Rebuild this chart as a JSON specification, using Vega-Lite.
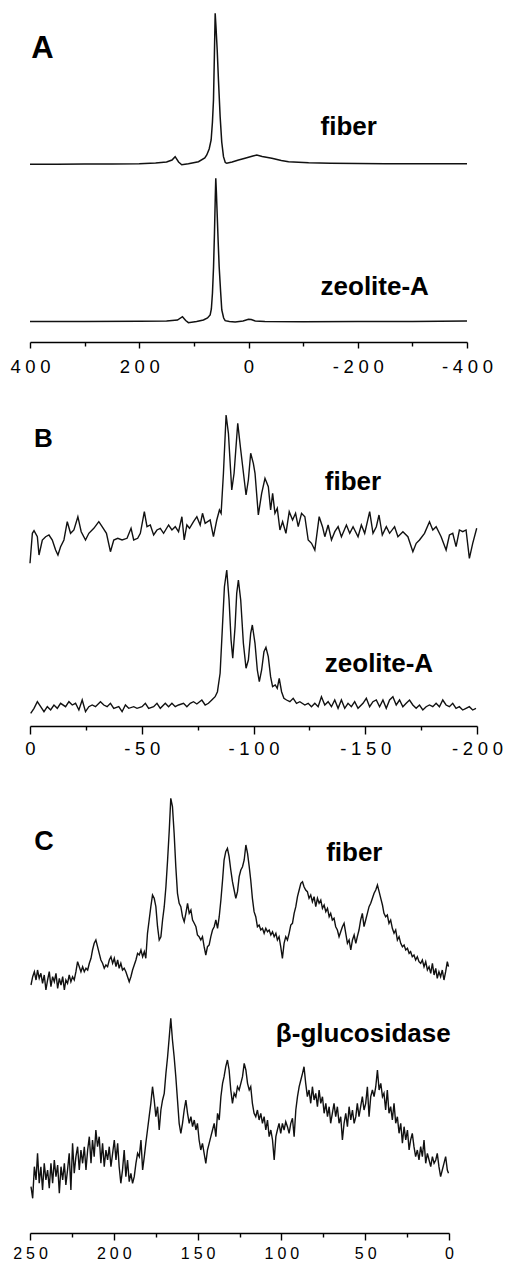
{
"$schema": "https://vega.github.io/schema/vega-lite/v6.json",
"padding": {"left": 9, "top": 8, "right": 0, "bottom": 0},
"bounds": "flush",
"spacing": 62,
"config": {
  "view": {"stroke": null, "fill": "white"},
  "axis": {"domainColor": "black", "domainWidth": 1.6, "tickColor": "black", "tickWidth": 1.4, "labelColor": "black", "labelFont": "Liberation Sans", "grid": false, "labelFlush": false, "labelOverlap": false, "labelBound": false}
},
"datasets": {
  "A_spectra": [
    {"ppm":400,"intensity":177.7,"sample":"fiber"},{"ppm":350,"intensity":177.8,"sample":"fiber"},{"ppm":300,"intensity":178,"sample":"fiber"},{"ppm":250,"intensity":178,"sample":"fiber"},{"ppm":200,"intensity":178.2,"sample":"fiber"},{"ppm":170,"intensity":179,"sample":"fiber"},{"ppm":150,"intensity":180,"sample":"fiber"},{"ppm":140,"intensity":182,"sample":"fiber"},{"ppm":134.3,"intensity":185.3,"sample":"fiber"},{"ppm":128,"intensity":180,"sample":"fiber"},{"ppm":122.2,"intensity":177.3,"sample":"fiber"},{"ppm":110,"intensity":178.3,"sample":"fiber"},{"ppm":91.6,"intensity":180.3,"sample":"fiber"},{"ppm":80,"intensity":184,"sample":"fiber"},{"ppm":76.4,"intensity":187,"sample":"fiber"},{"ppm":72,"intensity":193,"sample":"fiber"},{"ppm":68.4,"intensity":202,"sample":"fiber"},{"ppm":66,"intensity":220,"sample":"fiber"},{"ppm":64.1,"intensity":242,"sample":"fiber"},{"ppm":62.5,"intensity":285,"sample":"fiber"},{"ppm":61,"intensity":328.7,"sample":"fiber"},{"ppm":59.5,"intensity":315,"sample":"fiber"},{"ppm":57.3,"intensity":292,"sample":"fiber"},{"ppm":55,"intensity":262,"sample":"fiber"},{"ppm":51.9,"intensity":225.3,"sample":"fiber"},{"ppm":49,"intensity":200,"sample":"fiber"},{"ppm":45.8,"intensity":185.3,"sample":"fiber"},{"ppm":42.5,"intensity":179.5,"sample":"fiber"},{"ppm":39.8,"intensity":178.7,"sample":"fiber"},{"ppm":30,"intensity":180,"sample":"fiber"},{"ppm":18.3,"intensity":182,"sample":"fiber"},{"ppm":8,"intensity":183.5,"sample":"fiber"},{"ppm":0,"intensity":184.7,"sample":"fiber"},{"ppm":-8,"intensity":186,"sample":"fiber"},{"ppm":-15.2,"intensity":187,"sample":"fiber"},{"ppm":-25,"intensity":185.5,"sample":"fiber"},{"ppm":-42.7,"intensity":183.7,"sample":"fiber"},{"ppm":-60,"intensity":181.5,"sample":"fiber"},{"ppm":-73.3,"intensity":180.3,"sample":"fiber"},{"ppm":-110,"intensity":179.3,"sample":"fiber"},{"ppm":-150,"intensity":178.8,"sample":"fiber"},{"ppm":-200,"intensity":178.5,"sample":"fiber"},{"ppm":-250,"intensity":178.3,"sample":"fiber"},{"ppm":-300,"intensity":178.3,"sample":"fiber"},{"ppm":-350,"intensity":178.2,"sample":"fiber"},{"ppm":-400,"intensity":178.3,"sample":"fiber"},
    {"ppm":400,"intensity":20.5,"sample":"zeolite-A"},{"ppm":300,"intensity":20.5,"sample":"zeolite-A"},{"ppm":200,"intensity":20.7,"sample":"zeolite-A"},{"ppm":150,"intensity":21,"sample":"zeolite-A"},{"ppm":130,"intensity":22,"sample":"zeolite-A"},{"ppm":120.9,"intensity":25.3,"sample":"zeolite-A"},{"ppm":115,"intensity":21.5,"sample":"zeolite-A"},{"ppm":110,"intensity":19.3,"sample":"zeolite-A"},{"ppm":95,"intensity":20.5,"sample":"zeolite-A"},{"ppm":82.5,"intensity":22,"sample":"zeolite-A"},{"ppm":75,"intensity":24,"sample":"zeolite-A"},{"ppm":70.2,"intensity":27,"sample":"zeolite-A"},{"ppm":68,"intensity":33,"sample":"zeolite-A"},{"ppm":66,"intensity":48.7,"sample":"zeolite-A"},{"ppm":64,"intensity":75,"sample":"zeolite-A"},{"ppm":62.3,"intensity":108.7,"sample":"zeolite-A"},{"ppm":60.8,"intensity":145,"sample":"zeolite-A"},{"ppm":59.9,"intensity":163.7,"sample":"zeolite-A"},{"ppm":58.8,"intensity":150,"sample":"zeolite-A"},{"ppm":57.4,"intensity":128.7,"sample":"zeolite-A"},{"ppm":55.5,"intensity":100,"sample":"zeolite-A"},{"ppm":53.7,"intensity":75.3,"sample":"zeolite-A"},{"ppm":51,"intensity":50,"sample":"zeolite-A"},{"ppm":48.9,"intensity":32,"sample":"zeolite-A"},{"ppm":45.5,"intensity":24,"sample":"zeolite-A"},{"ppm":42.7,"intensity":21.3,"sample":"zeolite-A"},{"ppm":35,"intensity":20.5,"sample":"zeolite-A"},{"ppm":24.4,"intensity":20,"sample":"zeolite-A"},{"ppm":10,"intensity":21,"sample":"zeolite-A"},{"ppm":0,"intensity":22.7,"sample":"zeolite-A"},{"ppm":-5,"intensity":22.5,"sample":"zeolite-A"},{"ppm":-12.3,"intensity":21,"sample":"zeolite-A"},{"ppm":-30,"intensity":20.5,"sample":"zeolite-A"},{"ppm":-100,"intensity":20.3,"sample":"zeolite-A"},{"ppm":-200,"intensity":20.5,"sample":"zeolite-A"},{"ppm":-300,"intensity":20.6,"sample":"zeolite-A"},{"ppm":-400,"intensity":21,"sample":"zeolite-A"}
  ],
  "A_letter": [{"ppm":397.6,"intensity":284,"label":"A"}],
  "A_labels": [{"ppm":-131.9,"intensity":207,"label":"fiber"},{"ppm":-131.9,"intensity":47,"label":"zeolite-A"}],
  "B_spectra": [
    {"ppm":0,"intensity":162.7,"sample":"fiber"},{"ppm":-1.06,"intensity":192.7,"sample":"fiber"},{"ppm":-1.8,"intensity":195.3,"sample":"fiber"},{"ppm":-3.29,"intensity":189.3,"sample":"fiber"},{"ppm":-4.03,"intensity":171,"sample":"fiber"},{"ppm":-5.52,"intensity":186,"sample":"fiber"},{"ppm":-7,"intensity":189.3,"sample":"fiber"},{"ppm":-8.49,"intensity":191,"sample":"fiber"},{"ppm":-9.98,"intensity":186,"sample":"fiber"},{"ppm":-11.46,"intensity":176,"sample":"fiber"},{"ppm":-12.5,"intensity":171,"sample":"fiber"},{"ppm":-13.69,"intensity":179.3,"sample":"fiber"},{"ppm":-15.18,"intensity":186,"sample":"fiber"},{"ppm":-16.67,"intensity":204.3,"sample":"fiber"},{"ppm":-18.15,"intensity":192.7,"sample":"fiber"},{"ppm":-19.64,"intensity":196,"sample":"fiber"},{"ppm":-21.42,"intensity":209.3,"sample":"fiber"},{"ppm":-22.91,"intensity":194.3,"sample":"fiber"},{"ppm":-24.84,"intensity":186,"sample":"fiber"},{"ppm":-26.33,"intensity":192.7,"sample":"fiber"},{"ppm":-28.56,"intensity":197.7,"sample":"fiber"},{"ppm":-30.79,"intensity":204.3,"sample":"fiber"},{"ppm":-32.27,"intensity":199.3,"sample":"fiber"},{"ppm":-34.21,"intensity":192.7,"sample":"fiber"},{"ppm":-35.99,"intensity":174.3,"sample":"fiber"},{"ppm":-37.48,"intensity":186,"sample":"fiber"},{"ppm":-39.26,"intensity":187.7,"sample":"fiber"},{"ppm":-41.19,"intensity":186,"sample":"fiber"},{"ppm":-43.42,"intensity":187.7,"sample":"fiber"},{"ppm":-45.21,"intensity":197.7,"sample":"fiber"},{"ppm":-46.4,"intensity":186,"sample":"fiber"},{"ppm":-48.18,"intensity":187.7,"sample":"fiber"},{"ppm":-49.37,"intensity":192.7,"sample":"fiber"},{"ppm":-51.16,"intensity":214.3,"sample":"fiber"},{"ppm":-52.35,"intensity":199.3,"sample":"fiber"},{"ppm":-53.83,"intensity":201,"sample":"fiber"},{"ppm":-55.32,"intensity":191,"sample":"fiber"},{"ppm":-56.81,"intensity":196,"sample":"fiber"},{"ppm":-58.3,"intensity":197.7,"sample":"fiber"},{"ppm":-59.78,"intensity":192.7,"sample":"fiber"},{"ppm":-62.01,"intensity":201,"sample":"fiber"},{"ppm":-63.5,"intensity":196,"sample":"fiber"},{"ppm":-64.99,"intensity":199.3,"sample":"fiber"},{"ppm":-66.47,"intensity":194.3,"sample":"fiber"},{"ppm":-67.96,"intensity":209.3,"sample":"fiber"},{"ppm":-69,"intensity":186,"sample":"fiber"},{"ppm":-70.19,"intensity":201,"sample":"fiber"},{"ppm":-71.38,"intensity":197.7,"sample":"fiber"},{"ppm":-73.16,"intensity":204.3,"sample":"fiber"},{"ppm":-74.65,"intensity":209.3,"sample":"fiber"},{"ppm":-76.14,"intensity":201,"sample":"fiber"},{"ppm":-77.18,"intensity":212.7,"sample":"fiber"},{"ppm":-78.37,"intensity":202.7,"sample":"fiber"},{"ppm":-80.6,"intensity":206,"sample":"fiber"},{"ppm":-82.08,"intensity":189.3,"sample":"fiber"},{"ppm":-83.57,"intensity":206,"sample":"fiber"},{"ppm":-84.76,"intensity":216,"sample":"fiber"},{"ppm":-85.51,"intensity":212.7,"sample":"fiber"},{"ppm":-86.55,"intensity":252.7,"sample":"fiber"},{"ppm":-87.74,"intensity":311,"sample":"fiber"},{"ppm":-88.78,"intensity":292.7,"sample":"fiber"},{"ppm":-90.27,"intensity":236,"sample":"fiber"},{"ppm":-91.31,"intensity":252.7,"sample":"fiber"},{"ppm":-92.95,"intensity":302.7,"sample":"fiber"},{"ppm":-94.29,"intensity":276,"sample":"fiber"},{"ppm":-96.66,"intensity":231,"sample":"fiber"},{"ppm":-97.7,"intensity":246,"sample":"fiber"},{"ppm":-98.74,"intensity":272.7,"sample":"fiber"},{"ppm":-99.93,"intensity":262.7,"sample":"fiber"},{"ppm":-100.68,"intensity":252.7,"sample":"fiber"},{"ppm":-102.16,"intensity":211,"sample":"fiber"},{"ppm":-103.65,"intensity":232.7,"sample":"fiber"},{"ppm":-105.14,"intensity":247.7,"sample":"fiber"},{"ppm":-106.63,"intensity":239.3,"sample":"fiber"},{"ppm":-107.67,"intensity":216,"sample":"fiber"},{"ppm":-108.56,"intensity":232.7,"sample":"fiber"},{"ppm":-109.6,"intensity":212.7,"sample":"fiber"},{"ppm":-110.64,"intensity":217.7,"sample":"fiber"},{"ppm":-111.83,"intensity":196,"sample":"fiber"},{"ppm":-113.02,"intensity":204.3,"sample":"fiber"},{"ppm":-114.51,"intensity":192.7,"sample":"fiber"},{"ppm":-115.99,"intensity":214.3,"sample":"fiber"},{"ppm":-117.48,"intensity":206,"sample":"fiber"},{"ppm":-118.82,"intensity":212.7,"sample":"fiber"},{"ppm":-120.01,"intensity":199.3,"sample":"fiber"},{"ppm":-121.5,"intensity":212.7,"sample":"fiber"},{"ppm":-122.98,"intensity":209.3,"sample":"fiber"},{"ppm":-124.47,"intensity":186,"sample":"fiber"},{"ppm":-125.96,"intensity":182.7,"sample":"fiber"},{"ppm":-127.44,"intensity":176,"sample":"fiber"},{"ppm":-129.38,"intensity":209.3,"sample":"fiber"},{"ppm":-130.87,"intensity":199.3,"sample":"fiber"},{"ppm":-131.91,"intensity":189.3,"sample":"fiber"},{"ppm":-133.39,"intensity":201,"sample":"fiber"},{"ppm":-134.88,"intensity":186,"sample":"fiber"},{"ppm":-136.37,"intensity":194.3,"sample":"fiber"},{"ppm":-137.86,"intensity":199.3,"sample":"fiber"},{"ppm":-139.34,"intensity":189.3,"sample":"fiber"},{"ppm":-141.57,"intensity":201,"sample":"fiber"},{"ppm":-143.06,"intensity":192.7,"sample":"fiber"},{"ppm":-144.55,"intensity":199.3,"sample":"fiber"},{"ppm":-146.78,"intensity":189.3,"sample":"fiber"},{"ppm":-148.26,"intensity":201,"sample":"fiber"},{"ppm":-149.75,"intensity":192.7,"sample":"fiber"},{"ppm":-151.98,"intensity":214.3,"sample":"fiber"},{"ppm":-153.47,"intensity":192.7,"sample":"fiber"},{"ppm":-154.96,"intensity":199.3,"sample":"fiber"},{"ppm":-156.15,"intensity":211,"sample":"fiber"},{"ppm":-157.63,"intensity":191,"sample":"fiber"},{"ppm":-159.42,"intensity":199.3,"sample":"fiber"},{"ppm":-160.9,"intensity":192.7,"sample":"fiber"},{"ppm":-163.13,"intensity":199.3,"sample":"fiber"},{"ppm":-164.62,"intensity":189.3,"sample":"fiber"},{"ppm":-166.85,"intensity":194.3,"sample":"fiber"},{"ppm":-169.08,"intensity":189.3,"sample":"fiber"},{"ppm":-171.31,"intensity":174.3,"sample":"fiber"},{"ppm":-172.8,"intensity":182.7,"sample":"fiber"},{"ppm":-174.28,"intensity":186,"sample":"fiber"},{"ppm":-176.51,"intensity":192.7,"sample":"fiber"},{"ppm":-178.74,"intensity":204.3,"sample":"fiber"},{"ppm":-180.23,"intensity":196,"sample":"fiber"},{"ppm":-181.72,"intensity":199.3,"sample":"fiber"},{"ppm":-183.95,"intensity":189.3,"sample":"fiber"},{"ppm":-186.18,"intensity":176,"sample":"fiber"},{"ppm":-187.67,"intensity":191,"sample":"fiber"},{"ppm":-189.15,"intensity":192.7,"sample":"fiber"},{"ppm":-190.64,"intensity":179.3,"sample":"fiber"},{"ppm":-192.13,"intensity":196,"sample":"fiber"},{"ppm":-193.62,"intensity":194.3,"sample":"fiber"},{"ppm":-195.1,"intensity":196,"sample":"fiber"},{"ppm":-196.59,"intensity":167.7,"sample":"fiber"},{"ppm":-198.08,"intensity":182.7,"sample":"fiber"},{"ppm":-199.87,"intensity":197.7,"sample":"fiber"},
    {"ppm":-0.31,"intensity":12.7,"sample":"zeolite-A"},{"ppm":-1.8,"intensity":17.7,"sample":"zeolite-A"},{"ppm":-3.29,"intensity":24.3,"sample":"zeolite-A"},{"ppm":-4.77,"intensity":19.3,"sample":"zeolite-A"},{"ppm":-6.26,"intensity":14.3,"sample":"zeolite-A"},{"ppm":-7.75,"intensity":19.3,"sample":"zeolite-A"},{"ppm":-9.23,"intensity":16,"sample":"zeolite-A"},{"ppm":-10.72,"intensity":21,"sample":"zeolite-A"},{"ppm":-12.21,"intensity":17.7,"sample":"zeolite-A"},{"ppm":-13.69,"intensity":22.7,"sample":"zeolite-A"},{"ppm":-15.92,"intensity":19.3,"sample":"zeolite-A"},{"ppm":-17.41,"intensity":24.3,"sample":"zeolite-A"},{"ppm":-18.9,"intensity":21,"sample":"zeolite-A"},{"ppm":-20.38,"intensity":22.7,"sample":"zeolite-A"},{"ppm":-21.87,"intensity":16,"sample":"zeolite-A"},{"ppm":-23.36,"intensity":26,"sample":"zeolite-A"},{"ppm":-24.84,"intensity":14.3,"sample":"zeolite-A"},{"ppm":-26.33,"intensity":19.3,"sample":"zeolite-A"},{"ppm":-27.82,"intensity":21,"sample":"zeolite-A"},{"ppm":-29.3,"intensity":19.3,"sample":"zeolite-A"},{"ppm":-31.53,"intensity":24.3,"sample":"zeolite-A"},{"ppm":-33.02,"intensity":21,"sample":"zeolite-A"},{"ppm":-34.51,"intensity":19.3,"sample":"zeolite-A"},{"ppm":-35.99,"intensity":22.7,"sample":"zeolite-A"},{"ppm":-37.48,"intensity":17.7,"sample":"zeolite-A"},{"ppm":-39.71,"intensity":19.3,"sample":"zeolite-A"},{"ppm":-41.2,"intensity":14.3,"sample":"zeolite-A"},{"ppm":-42.69,"intensity":21,"sample":"zeolite-A"},{"ppm":-44.17,"intensity":17.7,"sample":"zeolite-A"},{"ppm":-46.4,"intensity":19.3,"sample":"zeolite-A"},{"ppm":-47.89,"intensity":17.7,"sample":"zeolite-A"},{"ppm":-50.12,"intensity":19.3,"sample":"zeolite-A"},{"ppm":-51.61,"intensity":22.7,"sample":"zeolite-A"},{"ppm":-53.09,"intensity":17.7,"sample":"zeolite-A"},{"ppm":-55.32,"intensity":19.3,"sample":"zeolite-A"},{"ppm":-56.81,"intensity":22.7,"sample":"zeolite-A"},{"ppm":-58.3,"intensity":17.7,"sample":"zeolite-A"},{"ppm":-60.53,"intensity":22.7,"sample":"zeolite-A"},{"ppm":-62.01,"intensity":19.3,"sample":"zeolite-A"},{"ppm":-63.5,"intensity":22.7,"sample":"zeolite-A"},{"ppm":-64.99,"intensity":19.3,"sample":"zeolite-A"},{"ppm":-66.47,"intensity":21,"sample":"zeolite-A"},{"ppm":-68.7,"intensity":22.7,"sample":"zeolite-A"},{"ppm":-70.19,"intensity":19.3,"sample":"zeolite-A"},{"ppm":-71.68,"intensity":22.7,"sample":"zeolite-A"},{"ppm":-73.16,"intensity":24.3,"sample":"zeolite-A"},{"ppm":-74.65,"intensity":22,"sample":"zeolite-A"},{"ppm":-76.88,"intensity":26,"sample":"zeolite-A"},{"ppm":-78.37,"intensity":21,"sample":"zeolite-A"},{"ppm":-79.85,"intensity":22.7,"sample":"zeolite-A"},{"ppm":-81.34,"intensity":26,"sample":"zeolite-A"},{"ppm":-82.83,"intensity":29.3,"sample":"zeolite-A"},{"ppm":-83.87,"intensity":34.3,"sample":"zeolite-A"},{"ppm":-85.06,"intensity":52.7,"sample":"zeolite-A"},{"ppm":-86.1,"intensity":99.3,"sample":"zeolite-A"},{"ppm":-86.99,"intensity":139.3,"sample":"zeolite-A"},{"ppm":-88.03,"intensity":156,"sample":"zeolite-A"},{"ppm":-89.07,"intensity":126,"sample":"zeolite-A"},{"ppm":-89.96,"intensity":86,"sample":"zeolite-A"},{"ppm":-90.71,"intensity":67.7,"sample":"zeolite-A"},{"ppm":-91.75,"intensity":99.3,"sample":"zeolite-A"},{"ppm":-92.49,"intensity":132.7,"sample":"zeolite-A"},{"ppm":-93.24,"intensity":146,"sample":"zeolite-A"},{"ppm":-94.28,"intensity":126,"sample":"zeolite-A"},{"ppm":-95.47,"intensity":82.7,"sample":"zeolite-A"},{"ppm":-96.66,"intensity":57.7,"sample":"zeolite-A"},{"ppm":-97.7,"intensity":66,"sample":"zeolite-A"},{"ppm":-98.74,"intensity":92.7,"sample":"zeolite-A"},{"ppm":-99.48,"intensity":101,"sample":"zeolite-A"},{"ppm":-100.67,"intensity":82.7,"sample":"zeolite-A"},{"ppm":-101.71,"intensity":56,"sample":"zeolite-A"},{"ppm":-102.6,"intensity":44.3,"sample":"zeolite-A"},{"ppm":-103.64,"intensity":56,"sample":"zeolite-A"},{"ppm":-104.68,"intensity":74.3,"sample":"zeolite-A"},{"ppm":-105.57,"intensity":78.7,"sample":"zeolite-A"},{"ppm":-106.61,"intensity":69.3,"sample":"zeolite-A"},{"ppm":-107.65,"intensity":49.3,"sample":"zeolite-A"},{"ppm":-108.54,"intensity":39.3,"sample":"zeolite-A"},{"ppm":-109.73,"intensity":41,"sample":"zeolite-A"},{"ppm":-110.62,"intensity":37.7,"sample":"zeolite-A"},{"ppm":-111.51,"intensity":47.7,"sample":"zeolite-A"},{"ppm":-112.56,"intensity":34.3,"sample":"zeolite-A"},{"ppm":-113.6,"intensity":27.7,"sample":"zeolite-A"},{"ppm":-114.79,"intensity":26,"sample":"zeolite-A"},{"ppm":-116.28,"intensity":24.3,"sample":"zeolite-A"},{"ppm":-117.76,"intensity":27.7,"sample":"zeolite-A"},{"ppm":-119.25,"intensity":22.7,"sample":"zeolite-A"},{"ppm":-120.74,"intensity":24.3,"sample":"zeolite-A"},{"ppm":-122.97,"intensity":21,"sample":"zeolite-A"},{"ppm":-124.46,"intensity":22.7,"sample":"zeolite-A"},{"ppm":-125.94,"intensity":19.3,"sample":"zeolite-A"},{"ppm":-127.43,"intensity":22.7,"sample":"zeolite-A"},{"ppm":-128.92,"intensity":19.3,"sample":"zeolite-A"},{"ppm":-130.4,"intensity":29.3,"sample":"zeolite-A"},{"ppm":-131.89,"intensity":21,"sample":"zeolite-A"},{"ppm":-133.38,"intensity":24.3,"sample":"zeolite-A"},{"ppm":-134.87,"intensity":19.3,"sample":"zeolite-A"},{"ppm":-136.35,"intensity":26,"sample":"zeolite-A"},{"ppm":-137.84,"intensity":17.7,"sample":"zeolite-A"},{"ppm":-139.33,"intensity":26,"sample":"zeolite-A"},{"ppm":-140.81,"intensity":17.7,"sample":"zeolite-A"},{"ppm":-142.3,"intensity":22.7,"sample":"zeolite-A"},{"ppm":-143.79,"intensity":19.3,"sample":"zeolite-A"},{"ppm":-145.27,"intensity":24.3,"sample":"zeolite-A"},{"ppm":-146.76,"intensity":17.7,"sample":"zeolite-A"},{"ppm":-148.99,"intensity":22.7,"sample":"zeolite-A"},{"ppm":-150.48,"intensity":27.7,"sample":"zeolite-A"},{"ppm":-151.96,"intensity":19.3,"sample":"zeolite-A"},{"ppm":-153.45,"intensity":24.3,"sample":"zeolite-A"},{"ppm":-154.94,"intensity":26,"sample":"zeolite-A"},{"ppm":-156.42,"intensity":19.3,"sample":"zeolite-A"},{"ppm":-157.91,"intensity":26,"sample":"zeolite-A"},{"ppm":-159.4,"intensity":17.7,"sample":"zeolite-A"},{"ppm":-160.89,"intensity":26,"sample":"zeolite-A"},{"ppm":-162.37,"intensity":29.3,"sample":"zeolite-A"},{"ppm":-163.86,"intensity":21,"sample":"zeolite-A"},{"ppm":-165.35,"intensity":26,"sample":"zeolite-A"},{"ppm":-166.83,"intensity":19.3,"sample":"zeolite-A"},{"ppm":-168.32,"intensity":22.7,"sample":"zeolite-A"},{"ppm":-169.81,"intensity":26,"sample":"zeolite-A"},{"ppm":-171.29,"intensity":21,"sample":"zeolite-A"},{"ppm":-172.78,"intensity":17.7,"sample":"zeolite-A"},{"ppm":-174.27,"intensity":21,"sample":"zeolite-A"},{"ppm":-175.76,"intensity":16,"sample":"zeolite-A"},{"ppm":-177.24,"intensity":19.3,"sample":"zeolite-A"},{"ppm":-178.73,"intensity":21,"sample":"zeolite-A"},{"ppm":-180.22,"intensity":19.3,"sample":"zeolite-A"},{"ppm":-181.7,"intensity":22.7,"sample":"zeolite-A"},{"ppm":-183.19,"intensity":19.3,"sample":"zeolite-A"},{"ppm":-184.68,"intensity":26,"sample":"zeolite-A"},{"ppm":-186.16,"intensity":21,"sample":"zeolite-A"},{"ppm":-187.65,"intensity":19.3,"sample":"zeolite-A"},{"ppm":-189.14,"intensity":22.7,"sample":"zeolite-A"},{"ppm":-190.63,"intensity":17.7,"sample":"zeolite-A"},{"ppm":-192.11,"intensity":19.3,"sample":"zeolite-A"},{"ppm":-193.6,"intensity":16,"sample":"zeolite-A"},{"ppm":-195.09,"intensity":17.7,"sample":"zeolite-A"},{"ppm":-196.57,"intensity":19.3,"sample":"zeolite-A"},{"ppm":-198.06,"intensity":16,"sample":"zeolite-A"},{"ppm":-199.55,"intensity":17.7,"sample":"zeolite-A"}
  ],
  "B_letter": [{"ppm":-1.8,"intensity":279,"label":"B"}],
  "B_labels": [{"ppm":-131.9,"intensity":236.5,"label":"fiber"},{"ppm":-131.9,"intensity":54.3,"label":"zeolite-A"}],
  "C_spectra": [
    {"ppm":249.4,"intensity":248,"sample":"fiber"},{"ppm":248.4,"intensity":256.3,"sample":"fiber"},{"ppm":247.4,"intensity":261.3,"sample":"fiber"},{"ppm":246.4,"intensity":253,"sample":"fiber"},{"ppm":245.5,"intensity":263,"sample":"fiber"},{"ppm":244.5,"intensity":254.7,"sample":"fiber"},{"ppm":243.5,"intensity":259.7,"sample":"fiber"},{"ppm":242.5,"intensity":249.7,"sample":"fiber"},{"ppm":241.5,"intensity":258,"sample":"fiber"},{"ppm":240.5,"intensity":243,"sample":"fiber"},{"ppm":239.5,"intensity":253,"sample":"fiber"},{"ppm":238.5,"intensity":261.3,"sample":"fiber"},{"ppm":237.5,"intensity":246.3,"sample":"fiber"},{"ppm":236.5,"intensity":256.3,"sample":"fiber"},{"ppm":235.5,"intensity":251.3,"sample":"fiber"},{"ppm":234.5,"intensity":259.7,"sample":"fiber"},{"ppm":233.5,"intensity":244.7,"sample":"fiber"},{"ppm":232.5,"intensity":254.7,"sample":"fiber"},{"ppm":231.5,"intensity":248,"sample":"fiber"},{"ppm":230.5,"intensity":256.3,"sample":"fiber"},{"ppm":229.5,"intensity":243,"sample":"fiber"},{"ppm":228.6,"intensity":253,"sample":"fiber"},{"ppm":227.6,"intensity":249.7,"sample":"fiber"},{"ppm":226.6,"intensity":258,"sample":"fiber"},{"ppm":225.6,"intensity":251.3,"sample":"fiber"},{"ppm":224.6,"intensity":256.3,"sample":"fiber"},{"ppm":223.6,"intensity":253,"sample":"fiber"},{"ppm":222.6,"intensity":261.3,"sample":"fiber"},{"ppm":221.6,"intensity":271.3,"sample":"fiber"},{"ppm":220.6,"intensity":266.3,"sample":"fiber"},{"ppm":219.6,"intensity":261.3,"sample":"fiber"},{"ppm":218.6,"intensity":266.3,"sample":"fiber"},{"ppm":217.6,"intensity":261.3,"sample":"fiber"},{"ppm":216.6,"intensity":264.7,"sample":"fiber"},{"ppm":215.6,"intensity":263,"sample":"fiber"},{"ppm":214.6,"intensity":269.7,"sample":"fiber"},{"ppm":213.6,"intensity":274.7,"sample":"fiber"},{"ppm":212.7,"intensity":283,"sample":"fiber"},{"ppm":211.7,"intensity":289.7,"sample":"fiber"},{"ppm":210.7,"intensity":293,"sample":"fiber"},{"ppm":209.7,"intensity":286.3,"sample":"fiber"},{"ppm":208.7,"intensity":279.7,"sample":"fiber"},{"ppm":207.7,"intensity":273,"sample":"fiber"},{"ppm":206.7,"intensity":269.7,"sample":"fiber"},{"ppm":205.7,"intensity":264.7,"sample":"fiber"},{"ppm":204.7,"intensity":268,"sample":"fiber"},{"ppm":203.7,"intensity":266.3,"sample":"fiber"},{"ppm":202.7,"intensity":273,"sample":"fiber"},{"ppm":201.7,"intensity":276.3,"sample":"fiber"},{"ppm":200.7,"intensity":269.7,"sample":"fiber"},{"ppm":199.7,"intensity":274.7,"sample":"fiber"},{"ppm":198.7,"intensity":266.3,"sample":"fiber"},{"ppm":197.7,"intensity":273,"sample":"fiber"},{"ppm":196.8,"intensity":264.7,"sample":"fiber"},{"ppm":195.8,"intensity":269.7,"sample":"fiber"},{"ppm":194.8,"intensity":263,"sample":"fiber"},{"ppm":193.8,"intensity":264.7,"sample":"fiber"},{"ppm":192.8,"intensity":261.3,"sample":"fiber"},{"ppm":191.8,"intensity":256.3,"sample":"fiber"},{"ppm":190.8,"intensity":251.3,"sample":"fiber"},{"ppm":189.8,"intensity":256.3,"sample":"fiber"},{"ppm":188.8,"intensity":263,"sample":"fiber"},{"ppm":187.8,"intensity":268,"sample":"fiber"},{"ppm":186.8,"intensity":273,"sample":"fiber"},{"ppm":185.8,"intensity":279.7,"sample":"fiber"},{"ppm":184.8,"intensity":278,"sample":"fiber"},{"ppm":183.8,"intensity":283,"sample":"fiber"},{"ppm":182.8,"intensity":276.3,"sample":"fiber"},{"ppm":181.8,"intensity":281.3,"sample":"fiber"},{"ppm":180.9,"intensity":274.7,"sample":"fiber"},{"ppm":179.9,"intensity":299.7,"sample":"fiber"},{"ppm":178.9,"intensity":313,"sample":"fiber"},{"ppm":177.9,"intensity":326.3,"sample":"fiber"},{"ppm":176.9,"intensity":338,"sample":"fiber"},{"ppm":175.9,"intensity":334.7,"sample":"fiber"},{"ppm":174.9,"intensity":326.3,"sample":"fiber"},{"ppm":173.9,"intensity":306.3,"sample":"fiber"},{"ppm":172.9,"intensity":293,"sample":"fiber"},{"ppm":171.9,"intensity":296.3,"sample":"fiber"},{"ppm":170.9,"intensity":313,"sample":"fiber"},{"ppm":169.9,"intensity":326.3,"sample":"fiber"},{"ppm":168.9,"intensity":346.3,"sample":"fiber"},{"ppm":167.9,"intensity":373,"sample":"fiber"},{"ppm":166.9,"intensity":403,"sample":"fiber"},{"ppm":166,"intensity":434.7,"sample":"fiber"},{"ppm":165,"intensity":426.3,"sample":"fiber"},{"ppm":164,"intensity":399.7,"sample":"fiber"},{"ppm":163,"intensity":366.3,"sample":"fiber"},{"ppm":162,"intensity":339.7,"sample":"fiber"},{"ppm":161,"intensity":329.7,"sample":"fiber"},{"ppm":160,"intensity":326.3,"sample":"fiber"},{"ppm":159,"intensity":316.3,"sample":"fiber"},{"ppm":158,"intensity":311.3,"sample":"fiber"},{"ppm":157,"intensity":319.7,"sample":"fiber"},{"ppm":156,"intensity":329.7,"sample":"fiber"},{"ppm":155,"intensity":319.7,"sample":"fiber"},{"ppm":154,"intensity":323,"sample":"fiber"},{"ppm":153,"intensity":313,"sample":"fiber"},{"ppm":152,"intensity":309.7,"sample":"fiber"},{"ppm":151,"intensity":306.3,"sample":"fiber"},{"ppm":150.1,"intensity":298,"sample":"fiber"},{"ppm":149.1,"intensity":296.3,"sample":"fiber"},{"ppm":148.1,"intensity":293,"sample":"fiber"},{"ppm":147.1,"intensity":296.3,"sample":"fiber"},{"ppm":146.1,"intensity":286.3,"sample":"fiber"},{"ppm":145.1,"intensity":278,"sample":"fiber"},{"ppm":144.1,"intensity":286.3,"sample":"fiber"},{"ppm":143.1,"intensity":288,"sample":"fiber"},{"ppm":142.1,"intensity":296.3,"sample":"fiber"},{"ppm":141.1,"intensity":303,"sample":"fiber"},{"ppm":140.1,"intensity":306.3,"sample":"fiber"},{"ppm":139.1,"intensity":313,"sample":"fiber"},{"ppm":138.1,"intensity":304.7,"sample":"fiber"},{"ppm":137.1,"intensity":316.3,"sample":"fiber"},{"ppm":136.1,"intensity":333,"sample":"fiber"},{"ppm":135.1,"intensity":353,"sample":"fiber"},{"ppm":134.2,"intensity":373,"sample":"fiber"},{"ppm":133.2,"intensity":381.3,"sample":"fiber"},{"ppm":132.2,"intensity":384.7,"sample":"fiber"},{"ppm":131.2,"intensity":376.3,"sample":"fiber"},{"ppm":130.2,"intensity":363,"sample":"fiber"},{"ppm":129.2,"intensity":351.3,"sample":"fiber"},{"ppm":128.2,"intensity":343,"sample":"fiber"},{"ppm":127.2,"intensity":334.7,"sample":"fiber"},{"ppm":126.2,"intensity":341.3,"sample":"fiber"},{"ppm":125.2,"intensity":356.3,"sample":"fiber"},{"ppm":124.2,"intensity":363,"sample":"fiber"},{"ppm":123.2,"intensity":366.3,"sample":"fiber"},{"ppm":122.2,"intensity":373,"sample":"fiber"},{"ppm":121.2,"intensity":388,"sample":"fiber"},{"ppm":120.2,"intensity":379.7,"sample":"fiber"},{"ppm":119.2,"intensity":366.3,"sample":"fiber"},{"ppm":118.3,"intensity":353,"sample":"fiber"},{"ppm":117.3,"intensity":334.7,"sample":"fiber"},{"ppm":116.3,"intensity":321.3,"sample":"fiber"},{"ppm":115.3,"intensity":316.3,"sample":"fiber"},{"ppm":114.3,"intensity":306.3,"sample":"fiber"},{"ppm":113.3,"intensity":308,"sample":"fiber"},{"ppm":112.3,"intensity":303,"sample":"fiber"},{"ppm":111.3,"intensity":304.7,"sample":"fiber"},{"ppm":110.3,"intensity":299.7,"sample":"fiber"},{"ppm":109.3,"intensity":304.7,"sample":"fiber"},{"ppm":108.3,"intensity":301.3,"sample":"fiber"},{"ppm":107.3,"intensity":303,"sample":"fiber"},{"ppm":106.3,"intensity":298,"sample":"fiber"},{"ppm":105.3,"intensity":301.3,"sample":"fiber"},{"ppm":104.3,"intensity":296.3,"sample":"fiber"},{"ppm":103.3,"intensity":299.7,"sample":"fiber"},{"ppm":102.4,"intensity":293,"sample":"fiber"},{"ppm":101.4,"intensity":296.3,"sample":"fiber"},{"ppm":100.4,"intensity":286.3,"sample":"fiber"},{"ppm":99.4,"intensity":274.7,"sample":"fiber"},{"ppm":98.4,"intensity":289.7,"sample":"fiber"},{"ppm":97.4,"intensity":296.3,"sample":"fiber"},{"ppm":96.4,"intensity":293,"sample":"fiber"},{"ppm":95.4,"intensity":299.7,"sample":"fiber"},{"ppm":94.4,"intensity":308,"sample":"fiber"},{"ppm":93.4,"intensity":309.7,"sample":"fiber"},{"ppm":92.4,"intensity":319.7,"sample":"fiber"},{"ppm":91.4,"intensity":326.3,"sample":"fiber"},{"ppm":90.4,"intensity":336.3,"sample":"fiber"},{"ppm":89.4,"intensity":343,"sample":"fiber"},{"ppm":88.4,"intensity":349.7,"sample":"fiber"},{"ppm":87.4,"intensity":351.3,"sample":"fiber"},{"ppm":86.5,"intensity":346.3,"sample":"fiber"},{"ppm":85.5,"intensity":343,"sample":"fiber"},{"ppm":84.5,"intensity":341.3,"sample":"fiber"},{"ppm":83.5,"intensity":334.7,"sample":"fiber"},{"ppm":82.5,"intensity":338,"sample":"fiber"},{"ppm":81.5,"intensity":331.3,"sample":"fiber"},{"ppm":80.5,"intensity":336.3,"sample":"fiber"},{"ppm":79.5,"intensity":326.3,"sample":"fiber"},{"ppm":78.5,"intensity":334.7,"sample":"fiber"},{"ppm":77.5,"intensity":329.7,"sample":"fiber"},{"ppm":76.5,"intensity":333,"sample":"fiber"},{"ppm":75.5,"intensity":324.7,"sample":"fiber"},{"ppm":74.5,"intensity":328,"sample":"fiber"},{"ppm":73.5,"intensity":321.3,"sample":"fiber"},{"ppm":72.5,"intensity":324.7,"sample":"fiber"},{"ppm":71.5,"intensity":316.3,"sample":"fiber"},{"ppm":70.6,"intensity":319.7,"sample":"fiber"},{"ppm":69.6,"intensity":313,"sample":"fiber"},{"ppm":68.6,"intensity":314.7,"sample":"fiber"},{"ppm":67.6,"intensity":306.3,"sample":"fiber"},{"ppm":66.6,"intensity":303,"sample":"fiber"},{"ppm":65.6,"intensity":296.3,"sample":"fiber"},{"ppm":64.6,"intensity":301.3,"sample":"fiber"},{"ppm":63.6,"intensity":306.3,"sample":"fiber"},{"ppm":62.6,"intensity":309.7,"sample":"fiber"},{"ppm":61.6,"intensity":299.7,"sample":"fiber"},{"ppm":60.6,"intensity":289.7,"sample":"fiber"},{"ppm":59.6,"intensity":293,"sample":"fiber"},{"ppm":58.6,"intensity":283,"sample":"fiber"},{"ppm":57.6,"intensity":293,"sample":"fiber"},{"ppm":56.6,"intensity":298,"sample":"fiber"},{"ppm":55.6,"intensity":289.7,"sample":"fiber"},{"ppm":54.7,"intensity":296.3,"sample":"fiber"},{"ppm":53.7,"intensity":303,"sample":"fiber"},{"ppm":52.7,"intensity":313,"sample":"fiber"},{"ppm":51.7,"intensity":319.7,"sample":"fiber"},{"ppm":50.7,"intensity":306.3,"sample":"fiber"},{"ppm":49.7,"intensity":313,"sample":"fiber"},{"ppm":48.7,"intensity":319.7,"sample":"fiber"},{"ppm":47.7,"intensity":326.3,"sample":"fiber"},{"ppm":46.7,"intensity":329.7,"sample":"fiber"},{"ppm":45.7,"intensity":334.7,"sample":"fiber"},{"ppm":44.7,"intensity":339.7,"sample":"fiber"},{"ppm":43.7,"intensity":343,"sample":"fiber"},{"ppm":42.7,"intensity":348,"sample":"fiber"},{"ppm":41.7,"intensity":341.3,"sample":"fiber"},{"ppm":40.7,"intensity":334.7,"sample":"fiber"},{"ppm":39.7,"intensity":328,"sample":"fiber"},{"ppm":38.8,"intensity":319.7,"sample":"fiber"},{"ppm":37.8,"intensity":316.3,"sample":"fiber"},{"ppm":36.8,"intensity":318,"sample":"fiber"},{"ppm":35.8,"intensity":309.7,"sample":"fiber"},{"ppm":34.8,"intensity":313,"sample":"fiber"},{"ppm":33.8,"intensity":304.7,"sample":"fiber"},{"ppm":32.8,"intensity":299.7,"sample":"fiber"},{"ppm":31.8,"intensity":303,"sample":"fiber"},{"ppm":30.8,"intensity":293,"sample":"fiber"},{"ppm":29.8,"intensity":296.3,"sample":"fiber"},{"ppm":28.8,"intensity":289.7,"sample":"fiber"},{"ppm":27.8,"intensity":286.3,"sample":"fiber"},{"ppm":26.8,"intensity":288,"sample":"fiber"},{"ppm":25.8,"intensity":283,"sample":"fiber"},{"ppm":24.8,"intensity":284.7,"sample":"fiber"},{"ppm":23.8,"intensity":279.7,"sample":"fiber"},{"ppm":22.9,"intensity":281.3,"sample":"fiber"},{"ppm":21.9,"intensity":276.3,"sample":"fiber"},{"ppm":20.9,"intensity":278,"sample":"fiber"},{"ppm":19.9,"intensity":273,"sample":"fiber"},{"ppm":18.9,"intensity":276.3,"sample":"fiber"},{"ppm":17.9,"intensity":271.3,"sample":"fiber"},{"ppm":16.9,"intensity":269.7,"sample":"fiber"},{"ppm":15.9,"intensity":273,"sample":"fiber"},{"ppm":14.9,"intensity":266.3,"sample":"fiber"},{"ppm":13.9,"intensity":271.3,"sample":"fiber"},{"ppm":12.9,"intensity":263,"sample":"fiber"},{"ppm":11.9,"intensity":266.3,"sample":"fiber"},{"ppm":10.9,"intensity":259.7,"sample":"fiber"},{"ppm":9.9,"intensity":269.7,"sample":"fiber"},{"ppm":8.9,"intensity":258,"sample":"fiber"},{"ppm":7.9,"intensity":264.7,"sample":"fiber"},{"ppm":7,"intensity":254.7,"sample":"fiber"},{"ppm":6,"intensity":261.3,"sample":"fiber"},{"ppm":5,"intensity":256.3,"sample":"fiber"},{"ppm":4,"intensity":263,"sample":"fiber"},{"ppm":3,"intensity":253,"sample":"fiber"},{"ppm":2,"intensity":261.3,"sample":"fiber"},{"ppm":1,"intensity":271.3,"sample":"fiber"},{"ppm":0.3,"intensity":266.3,"sample":"fiber"},
    {"ppm":249.4,"intensity":46.3,"sample":"β-glucosidase"},{"ppm":248.4,"intensity":34.7,"sample":"β-glucosidase"},{"ppm":247.4,"intensity":66.3,"sample":"β-glucosidase"},{"ppm":246.4,"intensity":53,"sample":"β-glucosidase"},{"ppm":245.5,"intensity":79.7,"sample":"β-glucosidase"},{"ppm":244.5,"intensity":49.7,"sample":"β-glucosidase"},{"ppm":243.5,"intensity":66.3,"sample":"β-glucosidase"},{"ppm":242.5,"intensity":43,"sample":"β-glucosidase"},{"ppm":241.5,"intensity":69.7,"sample":"β-glucosidase"},{"ppm":240.5,"intensity":53,"sample":"β-glucosidase"},{"ppm":239.5,"intensity":63,"sample":"β-glucosidase"},{"ppm":238.5,"intensity":44.7,"sample":"β-glucosidase"},{"ppm":237.5,"intensity":69.7,"sample":"β-glucosidase"},{"ppm":236.5,"intensity":49.7,"sample":"β-glucosidase"},{"ppm":235.5,"intensity":73,"sample":"β-glucosidase"},{"ppm":234.5,"intensity":56.3,"sample":"β-glucosidase"},{"ppm":233.5,"intensity":68,"sample":"β-glucosidase"},{"ppm":232.5,"intensity":39.7,"sample":"β-glucosidase"},{"ppm":231.5,"intensity":66.3,"sample":"β-glucosidase"},{"ppm":230.5,"intensity":53,"sample":"β-glucosidase"},{"ppm":229.5,"intensity":69.7,"sample":"β-glucosidase"},{"ppm":228.6,"intensity":48,"sample":"β-glucosidase"},{"ppm":227.6,"intensity":63,"sample":"β-glucosidase"},{"ppm":226.6,"intensity":79.7,"sample":"β-glucosidase"},{"ppm":225.6,"intensity":43,"sample":"β-glucosidase"},{"ppm":224.6,"intensity":89.7,"sample":"β-glucosidase"},{"ppm":223.6,"intensity":59.7,"sample":"β-glucosidase"},{"ppm":222.6,"intensity":76.3,"sample":"β-glucosidase"},{"ppm":221.6,"intensity":86.3,"sample":"β-glucosidase"},{"ppm":220.6,"intensity":63,"sample":"β-glucosidase"},{"ppm":219.6,"intensity":83,"sample":"β-glucosidase"},{"ppm":218.6,"intensity":69.7,"sample":"β-glucosidase"},{"ppm":217.6,"intensity":86.3,"sample":"β-glucosidase"},{"ppm":216.6,"intensity":63,"sample":"β-glucosidase"},{"ppm":215.6,"intensity":83,"sample":"β-glucosidase"},{"ppm":214.6,"intensity":96.3,"sample":"β-glucosidase"},{"ppm":213.6,"intensity":69.7,"sample":"β-glucosidase"},{"ppm":212.7,"intensity":93,"sample":"β-glucosidase"},{"ppm":211.7,"intensity":76.3,"sample":"β-glucosidase"},{"ppm":210.7,"intensity":103,"sample":"β-glucosidase"},{"ppm":209.7,"intensity":86.3,"sample":"β-glucosidase"},{"ppm":208.7,"intensity":96.3,"sample":"β-glucosidase"},{"ppm":207.7,"intensity":69.7,"sample":"β-glucosidase"},{"ppm":206.7,"intensity":89.7,"sample":"β-glucosidase"},{"ppm":205.7,"intensity":66.3,"sample":"β-glucosidase"},{"ppm":204.7,"intensity":83,"sample":"β-glucosidase"},{"ppm":203.7,"intensity":73,"sample":"β-glucosidase"},{"ppm":202.7,"intensity":86.3,"sample":"β-glucosidase"},{"ppm":201.7,"intensity":66.3,"sample":"β-glucosidase"},{"ppm":200.7,"intensity":79.7,"sample":"β-glucosidase"},{"ppm":199.7,"intensity":93,"sample":"β-glucosidase"},{"ppm":198.7,"intensity":73,"sample":"β-glucosidase"},{"ppm":197.7,"intensity":89.7,"sample":"β-glucosidase"},{"ppm":196.8,"intensity":66.3,"sample":"β-glucosidase"},{"ppm":195.8,"intensity":49.7,"sample":"β-glucosidase"},{"ppm":194.8,"intensity":63,"sample":"β-glucosidase"},{"ppm":193.8,"intensity":83,"sample":"β-glucosidase"},{"ppm":192.8,"intensity":56.3,"sample":"β-glucosidase"},{"ppm":191.8,"intensity":73,"sample":"β-glucosidase"},{"ppm":190.8,"intensity":51.3,"sample":"β-glucosidase"},{"ppm":189.8,"intensity":59.7,"sample":"β-glucosidase"},{"ppm":188.8,"intensity":49.7,"sample":"β-glucosidase"},{"ppm":187.8,"intensity":56.3,"sample":"β-glucosidase"},{"ppm":186.8,"intensity":69.7,"sample":"β-glucosidase"},{"ppm":185.8,"intensity":79.7,"sample":"β-glucosidase"},{"ppm":184.8,"intensity":76.3,"sample":"β-glucosidase"},{"ppm":183.8,"intensity":93,"sample":"β-glucosidase"},{"ppm":182.8,"intensity":63,"sample":"β-glucosidase"},{"ppm":181.8,"intensity":76.3,"sample":"β-glucosidase"},{"ppm":180.9,"intensity":89.7,"sample":"β-glucosidase"},{"ppm":179.9,"intensity":103,"sample":"β-glucosidase"},{"ppm":178.9,"intensity":116.3,"sample":"β-glucosidase"},{"ppm":177.9,"intensity":129.7,"sample":"β-glucosidase"},{"ppm":176.9,"intensity":146.3,"sample":"β-glucosidase"},{"ppm":175.9,"intensity":133,"sample":"β-glucosidase"},{"ppm":174.9,"intensity":116.3,"sample":"β-glucosidase"},{"ppm":173.9,"intensity":126.3,"sample":"β-glucosidase"},{"ppm":172.9,"intensity":103,"sample":"β-glucosidase"},{"ppm":171.9,"intensity":123,"sample":"β-glucosidase"},{"ppm":170.9,"intensity":133,"sample":"β-glucosidase"},{"ppm":169.9,"intensity":139.7,"sample":"β-glucosidase"},{"ppm":168.9,"intensity":159.7,"sample":"β-glucosidase"},{"ppm":167.9,"intensity":176.3,"sample":"β-glucosidase"},{"ppm":166.9,"intensity":196.3,"sample":"β-glucosidase"},{"ppm":166,"intensity":214.7,"sample":"β-glucosidase"},{"ppm":165,"intensity":193,"sample":"β-glucosidase"},{"ppm":164,"intensity":176.3,"sample":"β-glucosidase"},{"ppm":163,"intensity":156.3,"sample":"β-glucosidase"},{"ppm":162,"intensity":133,"sample":"β-glucosidase"},{"ppm":161,"intensity":109.7,"sample":"β-glucosidase"},{"ppm":160,"intensity":99.7,"sample":"β-glucosidase"},{"ppm":159,"intensity":109.7,"sample":"β-glucosidase"},{"ppm":158,"intensity":123,"sample":"β-glucosidase"},{"ppm":157,"intensity":133,"sample":"β-glucosidase"},{"ppm":156,"intensity":119.7,"sample":"β-glucosidase"},{"ppm":155,"intensity":109.7,"sample":"β-glucosidase"},{"ppm":154,"intensity":116.3,"sample":"β-glucosidase"},{"ppm":153,"intensity":106.3,"sample":"β-glucosidase"},{"ppm":152,"intensity":113,"sample":"β-glucosidase"},{"ppm":151,"intensity":103,"sample":"β-glucosidase"},{"ppm":150.1,"intensity":109.7,"sample":"β-glucosidase"},{"ppm":149.1,"intensity":93,"sample":"β-glucosidase"},{"ppm":148.1,"intensity":83,"sample":"β-glucosidase"},{"ppm":147.1,"intensity":89.7,"sample":"β-glucosidase"},{"ppm":146.1,"intensity":79.7,"sample":"β-glucosidase"},{"ppm":145.1,"intensity":69.7,"sample":"β-glucosidase"},{"ppm":144.1,"intensity":83,"sample":"β-glucosidase"},{"ppm":143.1,"intensity":89.7,"sample":"β-glucosidase"},{"ppm":142.1,"intensity":96.3,"sample":"β-glucosidase"},{"ppm":141.1,"intensity":103,"sample":"β-glucosidase"},{"ppm":140.1,"intensity":109.7,"sample":"β-glucosidase"},{"ppm":139.1,"intensity":96.3,"sample":"β-glucosidase"},{"ppm":138.1,"intensity":119.7,"sample":"β-glucosidase"},{"ppm":137.1,"intensity":113,"sample":"β-glucosidase"},{"ppm":136.1,"intensity":136.3,"sample":"β-glucosidase"},{"ppm":135.1,"intensity":149.7,"sample":"β-glucosidase"},{"ppm":134.2,"intensity":156.3,"sample":"β-glucosidase"},{"ppm":133.2,"intensity":166.3,"sample":"β-glucosidase"},{"ppm":132.2,"intensity":173,"sample":"β-glucosidase"},{"ppm":131.2,"intensity":163,"sample":"β-glucosidase"},{"ppm":130.2,"intensity":143,"sample":"β-glucosidase"},{"ppm":129.2,"intensity":129.7,"sample":"β-glucosidase"},{"ppm":128.2,"intensity":139.7,"sample":"β-glucosidase"},{"ppm":127.2,"intensity":136.3,"sample":"β-glucosidase"},{"ppm":126.2,"intensity":146.3,"sample":"β-glucosidase"},{"ppm":125.2,"intensity":143,"sample":"β-glucosidase"},{"ppm":124.2,"intensity":149.7,"sample":"β-glucosidase"},{"ppm":123.2,"intensity":156.3,"sample":"β-glucosidase"},{"ppm":122.2,"intensity":169.7,"sample":"β-glucosidase"},{"ppm":121.2,"intensity":163,"sample":"β-glucosidase"},{"ppm":120.2,"intensity":149.7,"sample":"β-glucosidase"},{"ppm":119.2,"intensity":143,"sample":"β-glucosidase"},{"ppm":118.3,"intensity":146.3,"sample":"β-glucosidase"},{"ppm":117.3,"intensity":129.7,"sample":"β-glucosidase"},{"ppm":116.3,"intensity":119.7,"sample":"β-glucosidase"},{"ppm":115.3,"intensity":116.3,"sample":"β-glucosidase"},{"ppm":114.3,"intensity":123,"sample":"β-glucosidase"},{"ppm":113.3,"intensity":113,"sample":"β-glucosidase"},{"ppm":112.3,"intensity":119.7,"sample":"β-glucosidase"},{"ppm":111.3,"intensity":109.7,"sample":"β-glucosidase"},{"ppm":110.3,"intensity":116.3,"sample":"β-glucosidase"},{"ppm":109.3,"intensity":103,"sample":"β-glucosidase"},{"ppm":108.3,"intensity":113,"sample":"β-glucosidase"},{"ppm":107.3,"intensity":96.3,"sample":"β-glucosidase"},{"ppm":106.3,"intensity":103,"sample":"β-glucosidase"},{"ppm":105.3,"intensity":93,"sample":"β-glucosidase"},{"ppm":104.3,"intensity":73,"sample":"β-glucosidase"},{"ppm":103.3,"intensity":96.3,"sample":"β-glucosidase"},{"ppm":102.4,"intensity":103,"sample":"β-glucosidase"},{"ppm":101.4,"intensity":109.7,"sample":"β-glucosidase"},{"ppm":100.4,"intensity":99.7,"sample":"β-glucosidase"},{"ppm":99.4,"intensity":109.7,"sample":"β-glucosidase"},{"ppm":98.4,"intensity":103,"sample":"β-glucosidase"},{"ppm":97.4,"intensity":111.3,"sample":"β-glucosidase"},{"ppm":96.4,"intensity":106.3,"sample":"β-glucosidase"},{"ppm":95.4,"intensity":99.7,"sample":"β-glucosidase"},{"ppm":94.4,"intensity":109.7,"sample":"β-glucosidase"},{"ppm":93.4,"intensity":114.7,"sample":"β-glucosidase"},{"ppm":92.4,"intensity":96.3,"sample":"β-glucosidase"},{"ppm":91.4,"intensity":123,"sample":"β-glucosidase"},{"ppm":90.4,"intensity":136.3,"sample":"β-glucosidase"},{"ppm":89.4,"intensity":146.3,"sample":"β-glucosidase"},{"ppm":88.4,"intensity":153,"sample":"β-glucosidase"},{"ppm":87.4,"intensity":159.7,"sample":"β-glucosidase"},{"ppm":86.5,"intensity":166.3,"sample":"β-glucosidase"},{"ppm":85.5,"intensity":149.7,"sample":"β-glucosidase"},{"ppm":84.5,"intensity":136.3,"sample":"β-glucosidase"},{"ppm":83.5,"intensity":143,"sample":"β-glucosidase"},{"ppm":82.5,"intensity":129.7,"sample":"β-glucosidase"},{"ppm":81.5,"intensity":146.3,"sample":"β-glucosidase"},{"ppm":80.5,"intensity":133,"sample":"β-glucosidase"},{"ppm":79.5,"intensity":139.7,"sample":"β-glucosidase"},{"ppm":78.5,"intensity":126.3,"sample":"β-glucosidase"},{"ppm":77.5,"intensity":143,"sample":"β-glucosidase"},{"ppm":76.5,"intensity":129.7,"sample":"β-glucosidase"},{"ppm":75.5,"intensity":136.3,"sample":"β-glucosidase"},{"ppm":74.5,"intensity":119.7,"sample":"β-glucosidase"},{"ppm":73.5,"intensity":129.7,"sample":"β-glucosidase"},{"ppm":72.5,"intensity":116.3,"sample":"β-glucosidase"},{"ppm":71.5,"intensity":126.3,"sample":"β-glucosidase"},{"ppm":70.6,"intensity":109.7,"sample":"β-glucosidase"},{"ppm":69.6,"intensity":119.7,"sample":"β-glucosidase"},{"ppm":68.6,"intensity":129.7,"sample":"β-glucosidase"},{"ppm":67.6,"intensity":116.3,"sample":"β-glucosidase"},{"ppm":66.6,"intensity":126.3,"sample":"β-glucosidase"},{"ppm":65.6,"intensity":109.7,"sample":"β-glucosidase"},{"ppm":64.6,"intensity":116.3,"sample":"β-glucosidase"},{"ppm":63.6,"intensity":93,"sample":"β-glucosidase"},{"ppm":62.6,"intensity":109.7,"sample":"β-glucosidase"},{"ppm":61.6,"intensity":119.7,"sample":"β-glucosidase"},{"ppm":60.6,"intensity":106.3,"sample":"β-glucosidase"},{"ppm":59.6,"intensity":126.3,"sample":"β-glucosidase"},{"ppm":58.6,"intensity":113,"sample":"β-glucosidase"},{"ppm":57.6,"intensity":123,"sample":"β-glucosidase"},{"ppm":56.6,"intensity":109.7,"sample":"β-glucosidase"},{"ppm":55.6,"intensity":116.3,"sample":"β-glucosidase"},{"ppm":54.7,"intensity":129.7,"sample":"β-glucosidase"},{"ppm":53.7,"intensity":116.3,"sample":"β-glucosidase"},{"ppm":52.7,"intensity":126.3,"sample":"β-glucosidase"},{"ppm":51.7,"intensity":136.3,"sample":"β-glucosidase"},{"ppm":50.7,"intensity":123,"sample":"β-glucosidase"},{"ppm":49.7,"intensity":129.7,"sample":"β-glucosidase"},{"ppm":48.7,"intensity":146.3,"sample":"β-glucosidase"},{"ppm":47.7,"intensity":116.3,"sample":"β-glucosidase"},{"ppm":46.7,"intensity":136.3,"sample":"β-glucosidase"},{"ppm":45.7,"intensity":143,"sample":"β-glucosidase"},{"ppm":44.7,"intensity":136.3,"sample":"β-glucosidase"},{"ppm":43.7,"intensity":146.3,"sample":"β-glucosidase"},{"ppm":42.7,"intensity":163,"sample":"β-glucosidase"},{"ppm":41.7,"intensity":143,"sample":"β-glucosidase"},{"ppm":40.7,"intensity":149.7,"sample":"β-glucosidase"},{"ppm":39.7,"intensity":136.3,"sample":"β-glucosidase"},{"ppm":38.8,"intensity":139.7,"sample":"β-glucosidase"},{"ppm":37.8,"intensity":123,"sample":"β-glucosidase"},{"ppm":36.8,"intensity":143,"sample":"β-glucosidase"},{"ppm":35.8,"intensity":119.7,"sample":"β-glucosidase"},{"ppm":34.8,"intensity":126.3,"sample":"β-glucosidase"},{"ppm":33.8,"intensity":113,"sample":"β-glucosidase"},{"ppm":32.8,"intensity":129.7,"sample":"β-glucosidase"},{"ppm":31.8,"intensity":109.7,"sample":"β-glucosidase"},{"ppm":30.8,"intensity":116.3,"sample":"β-glucosidase"},{"ppm":29.8,"intensity":99.7,"sample":"β-glucosidase"},{"ppm":28.8,"intensity":109.7,"sample":"β-glucosidase"},{"ppm":27.8,"intensity":89.7,"sample":"β-glucosidase"},{"ppm":26.8,"intensity":106.3,"sample":"β-glucosidase"},{"ppm":25.8,"intensity":93,"sample":"β-glucosidase"},{"ppm":24.8,"intensity":103,"sample":"β-glucosidase"},{"ppm":23.8,"intensity":83,"sample":"β-glucosidase"},{"ppm":22.9,"intensity":93,"sample":"β-glucosidase"},{"ppm":21.9,"intensity":99.7,"sample":"β-glucosidase"},{"ppm":20.9,"intensity":86.3,"sample":"β-glucosidase"},{"ppm":19.9,"intensity":76.3,"sample":"β-glucosidase"},{"ppm":18.9,"intensity":83,"sample":"β-glucosidase"},{"ppm":17.9,"intensity":73,"sample":"β-glucosidase"},{"ppm":16.9,"intensity":86.3,"sample":"β-glucosidase"},{"ppm":15.9,"intensity":76.3,"sample":"β-glucosidase"},{"ppm":14.9,"intensity":93,"sample":"β-glucosidase"},{"ppm":13.9,"intensity":69.7,"sample":"β-glucosidase"},{"ppm":12.9,"intensity":79.7,"sample":"β-glucosidase"},{"ppm":11.9,"intensity":73,"sample":"β-glucosidase"},{"ppm":10.9,"intensity":66.3,"sample":"β-glucosidase"},{"ppm":9.9,"intensity":76.3,"sample":"β-glucosidase"},{"ppm":8.9,"intensity":69.7,"sample":"β-glucosidase"},{"ppm":7.9,"intensity":73,"sample":"β-glucosidase"},{"ppm":7,"intensity":79.7,"sample":"β-glucosidase"},{"ppm":6,"intensity":66.3,"sample":"β-glucosidase"},{"ppm":5,"intensity":56.3,"sample":"β-glucosidase"},{"ppm":4,"intensity":63,"sample":"β-glucosidase"},{"ppm":3,"intensity":69.7,"sample":"β-glucosidase"},{"ppm":2,"intensity":76.3,"sample":"β-glucosidase"},{"ppm":1,"intensity":63,"sample":"β-glucosidase"},{"ppm":0.3,"intensity":59.7,"sample":"β-glucosidase"}
  ],
  "C_letter": [{"ppm":247.4,"intensity":383,"label":"C"}],
  "C_labels": [{"ppm":73.3,"intensity":372,"label":"fiber"},{"ppm":103.3,"intensity":191.3,"label":"β-glucosidase"}]
},
"vconcat": [
  {
    "width": 437, "height": 334,
    "encoding": {
      "x": {"field": "ppm", "type": "quantitative", "scale": {"domain": [-400, 400], "reverse": true, "nice": false, "zero": false},
            "axis": {"title": null, "values": [400, 300, 200, 100, 0, -100, -200, -300, -400], "labelExpr": "datum.value % 200 === 0 ? join(split(toString(datum.value), ''), '\u2005') : ''", "labelFontSize": 18.5, "labelPadding": 9, "tickSize": {"condition": {"test": "datum.value % 200 === 0", "value": 6}, "value": 4}}},
      "y": {"field": "intensity", "type": "quantitative", "scale": {"domain": [0, 334], "nice": false, "zero": false}, "axis": null}
    },
    "layer": [
      {"data": {"name": "A_spectra"}, "mark": {"type": "line", "color": "#111111", "strokeWidth": 1.5}, "encoding": {"detail": {"field": "sample"}}},
      {"data": {"name": "A_letter"}, "mark": {"type": "text", "align": "left", "baseline": "alphabetic", "font": "Liberation Sans", "fontWeight": "bold", "fontSize": 31, "color": "black"}, "encoding": {"text": {"field": "label"}}},
      {"data": {"name": "A_labels"}, "mark": {"type": "text", "align": "left", "baseline": "alphabetic", "font": "Liberation Sans", "fontWeight": "bold", "fontSize": 26, "color": "black"}, "encoding": {"text": {"field": "label"}}}
    ]
  },
  {
    "width": 447, "height": 322,
    "encoding": {
      "x": {"field": "ppm", "type": "quantitative", "scale": {"domain": [-200, 0], "reverse": true, "nice": false, "zero": false},
            "axis": {"title": null, "values": [0, -25, -50, -75, -100, -125, -150, -175, -200], "labelExpr": "datum.value % 50 === 0 ? join(split(toString(datum.value), ''), '\u2005') : ''", "labelFontSize": 18.5, "labelPadding": 5, "tickSize": {"condition": {"test": "datum.value % 50 === 0", "value": 8}, "value": 4}}},
      "y": {"field": "intensity", "type": "quantitative", "scale": {"domain": [0, 322], "nice": false, "zero": false}, "axis": null}
    },
    "layer": [
      {"data": {"name": "B_spectra"}, "mark": {"type": "line", "color": "#111111", "strokeWidth": 1.4}, "encoding": {"detail": {"field": "sample"}}},
      {"data": {"name": "B_letter"}, "mark": {"type": "text", "align": "left", "baseline": "alphabetic", "font": "Liberation Sans", "fontWeight": "bold", "fontSize": 26, "color": "black"}, "encoding": {"text": {"field": "label"}}},
      {"data": {"name": "B_labels"}, "mark": {"type": "text", "align": "left", "baseline": "alphabetic", "font": "Liberation Sans", "fontWeight": "bold", "fontSize": 26, "color": "black"}, "encoding": {"text": {"field": "label"}}}
    ]
  },
  {
    "width": 419, "height": 445,
    "encoding": {
      "x": {"field": "ppm", "type": "quantitative", "scale": {"domain": [0, 250], "reverse": true, "nice": false, "zero": false},
            "axis": {"title": null, "values": [250, 225, 200, 175, 150, 125, 100, 75, 50, 25, 0], "labelExpr": "datum.value % 50 === 0 ? join(split(toString(datum.value), ''), '\u2005') : ''", "labelFontSize": 16, "labelPadding": 5.5, "tickSize": {"condition": {"test": "datum.value % 50 === 0", "value": 7}, "value": 4}}},
      "y": {"field": "intensity", "type": "quantitative", "scale": {"domain": [0, 445], "nice": false, "zero": false}, "axis": null}
    },
    "layer": [
      {"data": {"name": "C_spectra"}, "mark": {"type": "line", "color": "#111111", "strokeWidth": 1.4}, "encoding": {"detail": {"field": "sample"}}},
      {"data": {"name": "C_letter"}, "mark": {"type": "text", "align": "left", "baseline": "alphabetic", "font": "Liberation Sans", "fontWeight": "bold", "fontSize": 27, "color": "black"}, "encoding": {"text": {"field": "label"}}},
      {"data": {"name": "C_labels"}, "mark": {"type": "text", "align": "left", "baseline": "alphabetic", "font": "Liberation Sans", "fontWeight": "bold", "fontSize": 26, "color": "black"}, "encoding": {"text": {"field": "label"}}}
    ]
  }
]
}
